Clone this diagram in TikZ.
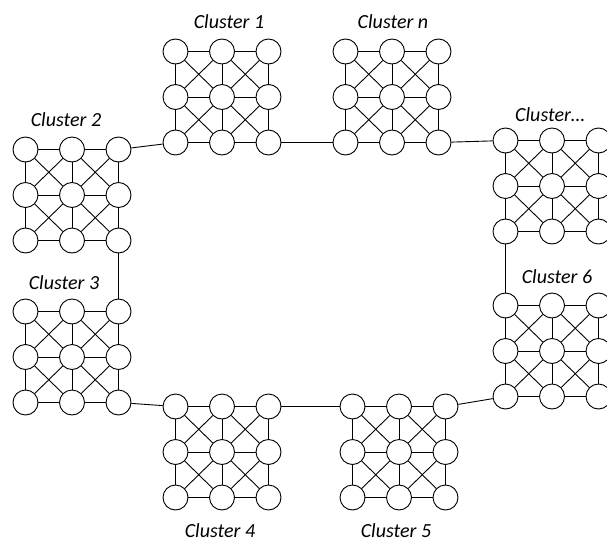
\documentclass[tikz,border=0pt]{standalone}
\usepackage{fontspec}
\setmainfont{Carlito}
\tikzset{
 nd/.style={circle, draw, fill=white, minimum size=25pt, inner sep=0pt, line width=0.9pt},
 ln/.style={line width=0.9pt},
 lbl/.style={font=\fontsize{20}{24}\selectfont\itshape, inner sep=0pt}
}
\newcommand{\mkcluster}[3]{%
 \foreach \i in {0,1,2}{\foreach \j in {0,1,2}{
   \node[nd] (#1-\i-\j) at ({#2+(\i-1)*46.5},{#3+(\j-1)*45.5}) {};}}
 \foreach \i/\ii in {0/1,1/2}{\foreach \j in {0,1,2}{
   \draw[ln] (#1-\i-\j) -- (#1-\ii-\j); \draw[ln] (#1-\j-\i) -- (#1-\j-\ii);}}
 \foreach \i/\ii in {0/1,1/2}{\foreach \j/\jj in {0/1,1/2}{
   \draw[ln] (#1-\i-\j) -- (#1-\ii-\jj); \draw[ln] (#1-\ii-\j) -- (#1-\i-\jj);}}
}
\begin{document}
\begin{tikzpicture}[x=1pt,y=-1pt]
\useasboundingbox (0,0) rectangle (607,543);
\clip (0,0) rectangle (607,543);
\mkcluster{ca}{222}{97}
\mkcluster{cn}{392}{97}
\mkcluster{cb}{72}{195}
\mkcluster{cc}{72}{357}
\mkcluster{cd}{222}{452}
\mkcluster{ce}{399}{452}
\mkcluster{cf}{552}{351}
\mkcluster{cg}{552}{186}
\draw[ln] (cb-2-0) -- (ca-0-2);
\draw[ln] (ca-2-2) -- (cn-0-2);
\draw[ln] (cn-2-2) -- (cg-0-0);
\draw[ln] (cg-0-2) -- (cf-0-0);
\draw[ln] (cf-0-2) -- (ce-2-0);
\draw[ln] (ce-0-0) -- (cd-2-0);
\draw[ln] (cd-0-0) -- (cc-2-2);
\draw[ln] (cc-2-0) -- (cb-2-2);
\node[lbl] (la) at (229,22) {Cluster 1};
\node[lbl] (ln) at (393,22) {Cluster n};
\node[lbl] (lb) at (66,120) {Cluster 2};
\node[lbl] (lc) at (64,283) {Cluster 3};
\node[lbl] (ld) at (220,531) {Cluster 4};
\node[lbl] (le) at (396,531) {Cluster 5};
\node[lbl] (lf) at (557,277) {Cluster 6};
\node[lbl] (lg) at (550,115) {Cluster…};
\end{tikzpicture}
\end{document}
